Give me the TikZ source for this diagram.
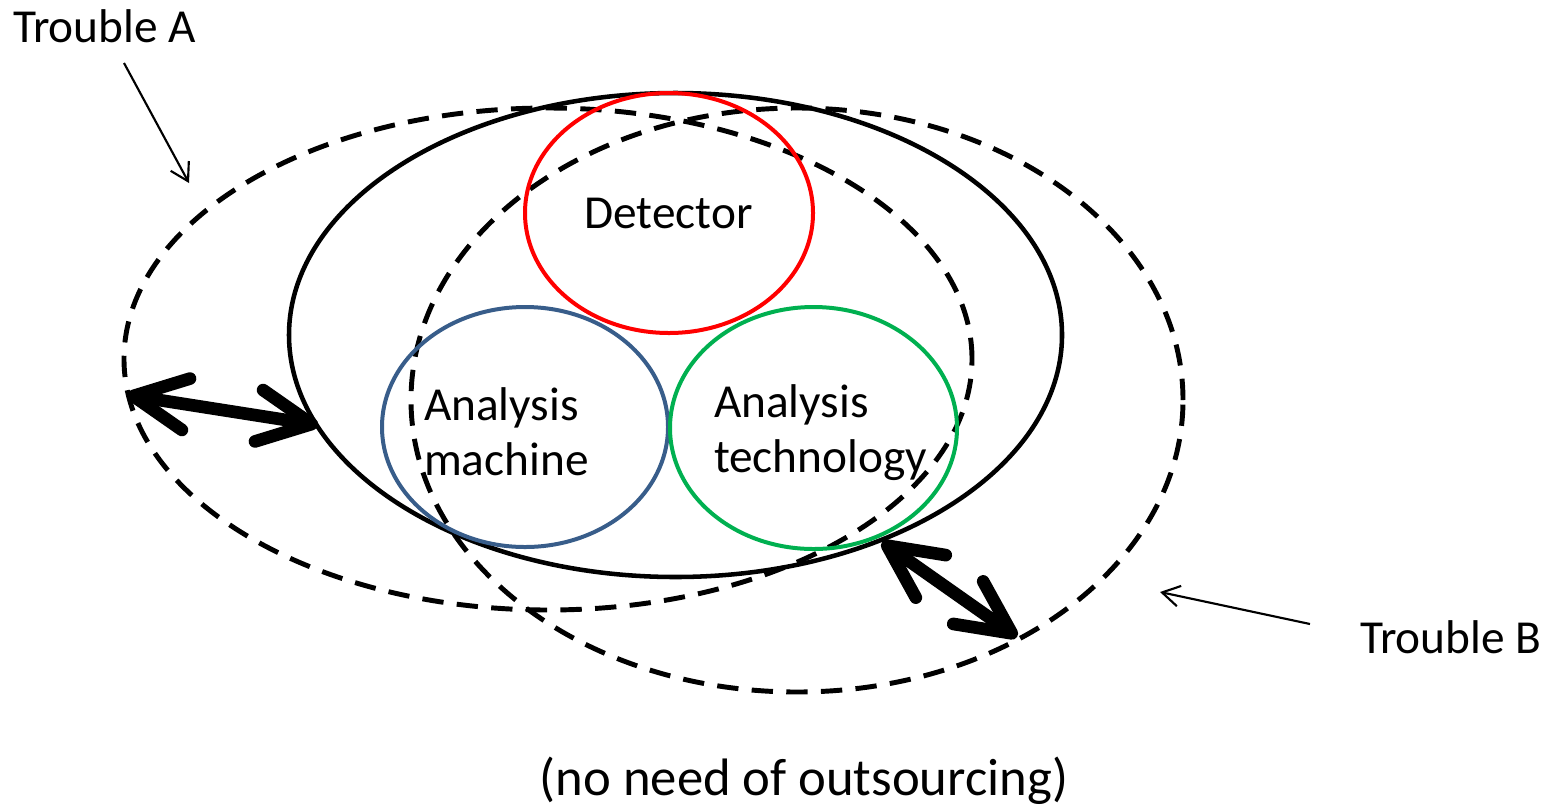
\documentclass[tikz,border=0pt]{standalone}
\usepackage{fontspec}
\setmainfont{Carlito}
\usetikzlibrary{arrows.meta,shapes.geometric}
\definecolor{detred}{HTML}{FF0000}
\definecolor{machblue}{HTML}{385D8A}
\definecolor{techgreen}{HTML}{00B050}
\begin{document}
\begin{tikzpicture}[x=0.75pt,y=-0.75pt,
  troubleshape/.style={ellipse, draw=black, line width=3.7pt, dash pattern=on 16pt off 10pt, inner sep=0pt, outer sep=0pt},
  mainshape/.style={ellipse, draw=black, line width=3.4pt, inner sep=0pt, outer sep=0pt},
  partshape/.style={ellipse, line width=3pt, inner sep=0pt, outer sep=0pt},
  lbl/.style={font=\fontsize{35.5}{43}\selectfont, inner sep=0pt, outer sep=0pt},
  notelbl/.style={font=\fontsize{39.5}{47}\selectfont, inner sep=0pt, outer sep=0pt},
  thinarrow/.style={line width=1.6pt, -{Straight Barb[length=13pt,width=15.5pt,line width=1.6pt]}},
  thickarrow/.style={line width=9.5pt,
    {Straight Barb[length=40pt,width=39pt,line width=9.5pt,round]}-{Straight Barb[length=40pt,width=39pt,line width=9.5pt,round]}}
]
\useasboundingbox (0,0) rectangle (1558,808);

% dashed trouble ellipses and solid main ellipse
\node[troubleshape, minimum width=636pt, minimum height=376.5pt] (ellA) at (548,359) {};
\node[troubleshape, minimum width=579pt, minimum height=438pt] (ellB) at (797,400) {};
\node[mainshape, minimum width=579.75pt, minimum height=363pt] (ellM) at (675.5,335) {};

% component circles
\node[partshape, draw=detred, minimum width=216pt, minimum height=180pt] (cDet) at (669,213) {};
\node[partshape, draw=machblue, minimum width=214.5pt, minimum height=180pt] (cMach) at (525,427) {};
\node[partshape, draw=techgreen, minimum width=215.25pt, minimum height=181.5pt] (cTech) at (813.5,428) {};

% texts
\node[lbl, anchor=base] (tDet) at (668.5,228) {Detector};
\node[lbl, anchor=base west] (tMach1) at (424,420) {Analysis};
\node[lbl, anchor=base west] (tMach2) at (424,475) {machine};
\node[lbl, anchor=base west] (tTech1) at (714,417) {Analysis};
\node[lbl, anchor=base west] (tTech2) at (714,472) {technology};
\node[lbl, anchor=base west] (tA) at (13,42) {Trouble A};
\node[lbl, anchor=base west] (tB) at (1360,653) {Trouble B};
\node[notelbl, anchor=base] (tNote) at (804,795) {(no need of outsourcing)};

% arrow end points
\coordinate (aStart) at (124,63);
\coordinate (aEnd) at (189,183);
\coordinate (bStart) at (1310,624);
\coordinate (bEnd) at (1160,592);
\coordinate (lA) at (127,395);
\coordinate (lM) at (318,425);
\coordinate (rM) at (882,542);
\coordinate (rB) at (1017,637);

\draw[thinarrow] (aStart) -- (aEnd);
\draw[thinarrow] (bStart) -- (bEnd);
\draw[thickarrow] (lA) -- (lM);
\draw[thickarrow] (rM) -- (rB);
\end{tikzpicture}
\end{document}
